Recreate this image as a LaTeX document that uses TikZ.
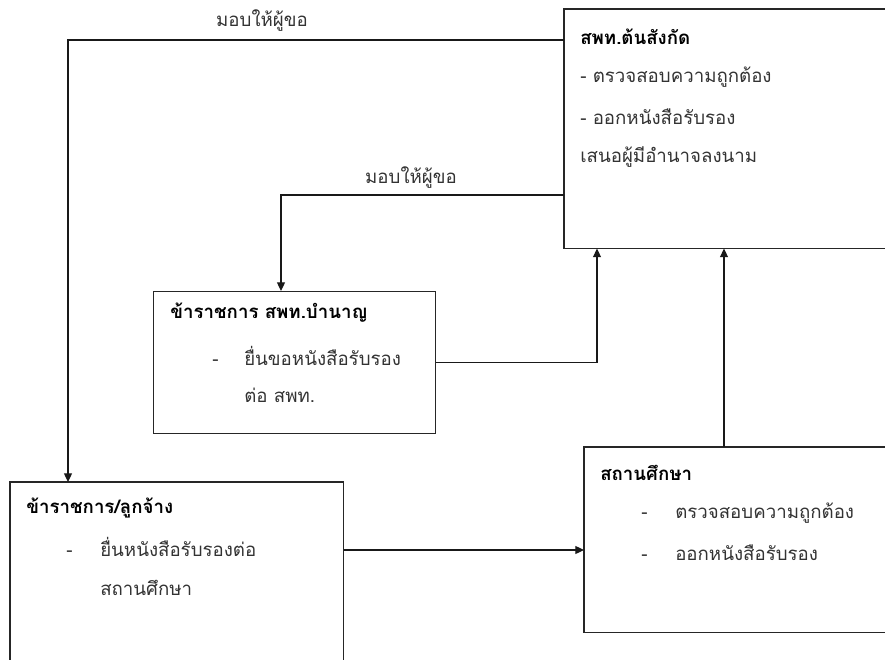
\documentclass[tikz,border=0pt]{standalone}
\usepackage{fontspec}
\setmainfont[Script=Thai]{Loma}
\usepackage{tikz}
\usetikzlibrary{arrows.meta}

\begin{document}
\begin{tikzpicture}[x=0.75pt,y=0.75pt,yscale=-1,xscale=1,
  box/.style={draw=black!85,line width=0.9pt,anchor=north west,inner sep=0pt},
  openbox/.style={anchor=north west,inner sep=0pt},
  edge/.style={draw=black!85,line width=0.9pt},
  ttl/.style={anchor=west,inner sep=0.75pt,font=\bfseries\fontsize{14}{16}\selectfont},
  txt/.style={anchor=west,inner sep=0.75pt,text=black!80,font=\fontsize{14}{16}\selectfont},
  lbl/.style={inner sep=0.75pt,text=black!80,font=\fontsize{14}{16}\selectfont},
  conn/.style={draw=black!90,line width=0.9pt,-{Triangle[length=6.5pt,width=6pt]}}]
\useasboundingbox (0,0) rectangle (886,661);
%Boxes (three of them run off the page)
\node[openbox,minimum width=240pt,minimum height=179.25pt] (top) at (564,9) {};
\draw[edge] (top.north east) -- (top.north west) -- (top.south west) -- (top.south east);
\node[box,minimum width=211.5pt,minimum height=106.5pt] (mid) at (153,291) {};
\node[openbox,minimum width=249.75pt,minimum height=133pt] (lft) at (10,482) {};
\draw[edge] (lft.south west) -- (lft.north west) -- (lft.north east) -- (lft.south east);
\node[openbox,minimum width=225pt,minimum height=138.75pt] (rgt) at (584,447) {};
\draw[edge] (rgt.north east) -- (rgt.north west) -- (rgt.south west) -- (rgt.south east);
% Text Node
\node[ttl] (topT) at (579,37) {สพท.ต้นสังกัด};
\node[txt] (topA) at (579,77) {- ตรวจสอบความถูกต้อง};
\node[txt] (topB) at (579,117) {- ออกหนังสือรับรอง};
\node[txt] (topC) at (579,157) {เสนอผู้มีอำนาจลงนาม};
% Text Node
\node[ttl] (midT) at (169,313) {ข้าราชการ สพท.บำนาญ};
\node[txt] (midA) at (211,356) {\makebox[24pt][l]{-}ยื่นขอหนังสือรับรอง};
\node[txt] (midB) at (243,395) {ต่อ สพท.};
% Text Node
\node[ttl] (lftT) at (25,508) {ข้าราชการ/ลูกจ้าง};
\node[txt] (lftA) at (65,547) {\makebox[25.5pt][l]{-}ยื่นหนังสือรับรองต่อ};
\node[txt] (lftB) at (99,588) {สถานศึกษา};
% Text Node
\node[ttl] (rgtT) at (599,473) {สถานศึกษา};
\node[txt] (rgtA) at (640,513) {\makebox[25.5pt][l]{-}ตรวจสอบความถูกต้อง};
\node[txt] (rgtB) at (640,553) {\makebox[25.5pt][l]{-}ออกหนังสือรับรอง};
% Labels
\node[lbl] (give1) at (262,21) {มอบให้ผู้ขอ};
\node[lbl] (give2) at (411,178) {มอบให้ผู้ขอ};
%Connectors
\draw[conn] (top.west |- 0,40) -| (lft.north -| 68,0);
\draw[conn] (top.west |- 0,195) -| (mid.north -| 281,0);
\draw[conn] (mid.east) -| (top.south -| 597,0);
\draw[conn] (lft.east |- 0,550) -- (rgt.west |- 0,550);
\draw[conn] (rgt.north -| 724,0) -- (top.south -| 724,0);
\end{tikzpicture}
\end{document}
